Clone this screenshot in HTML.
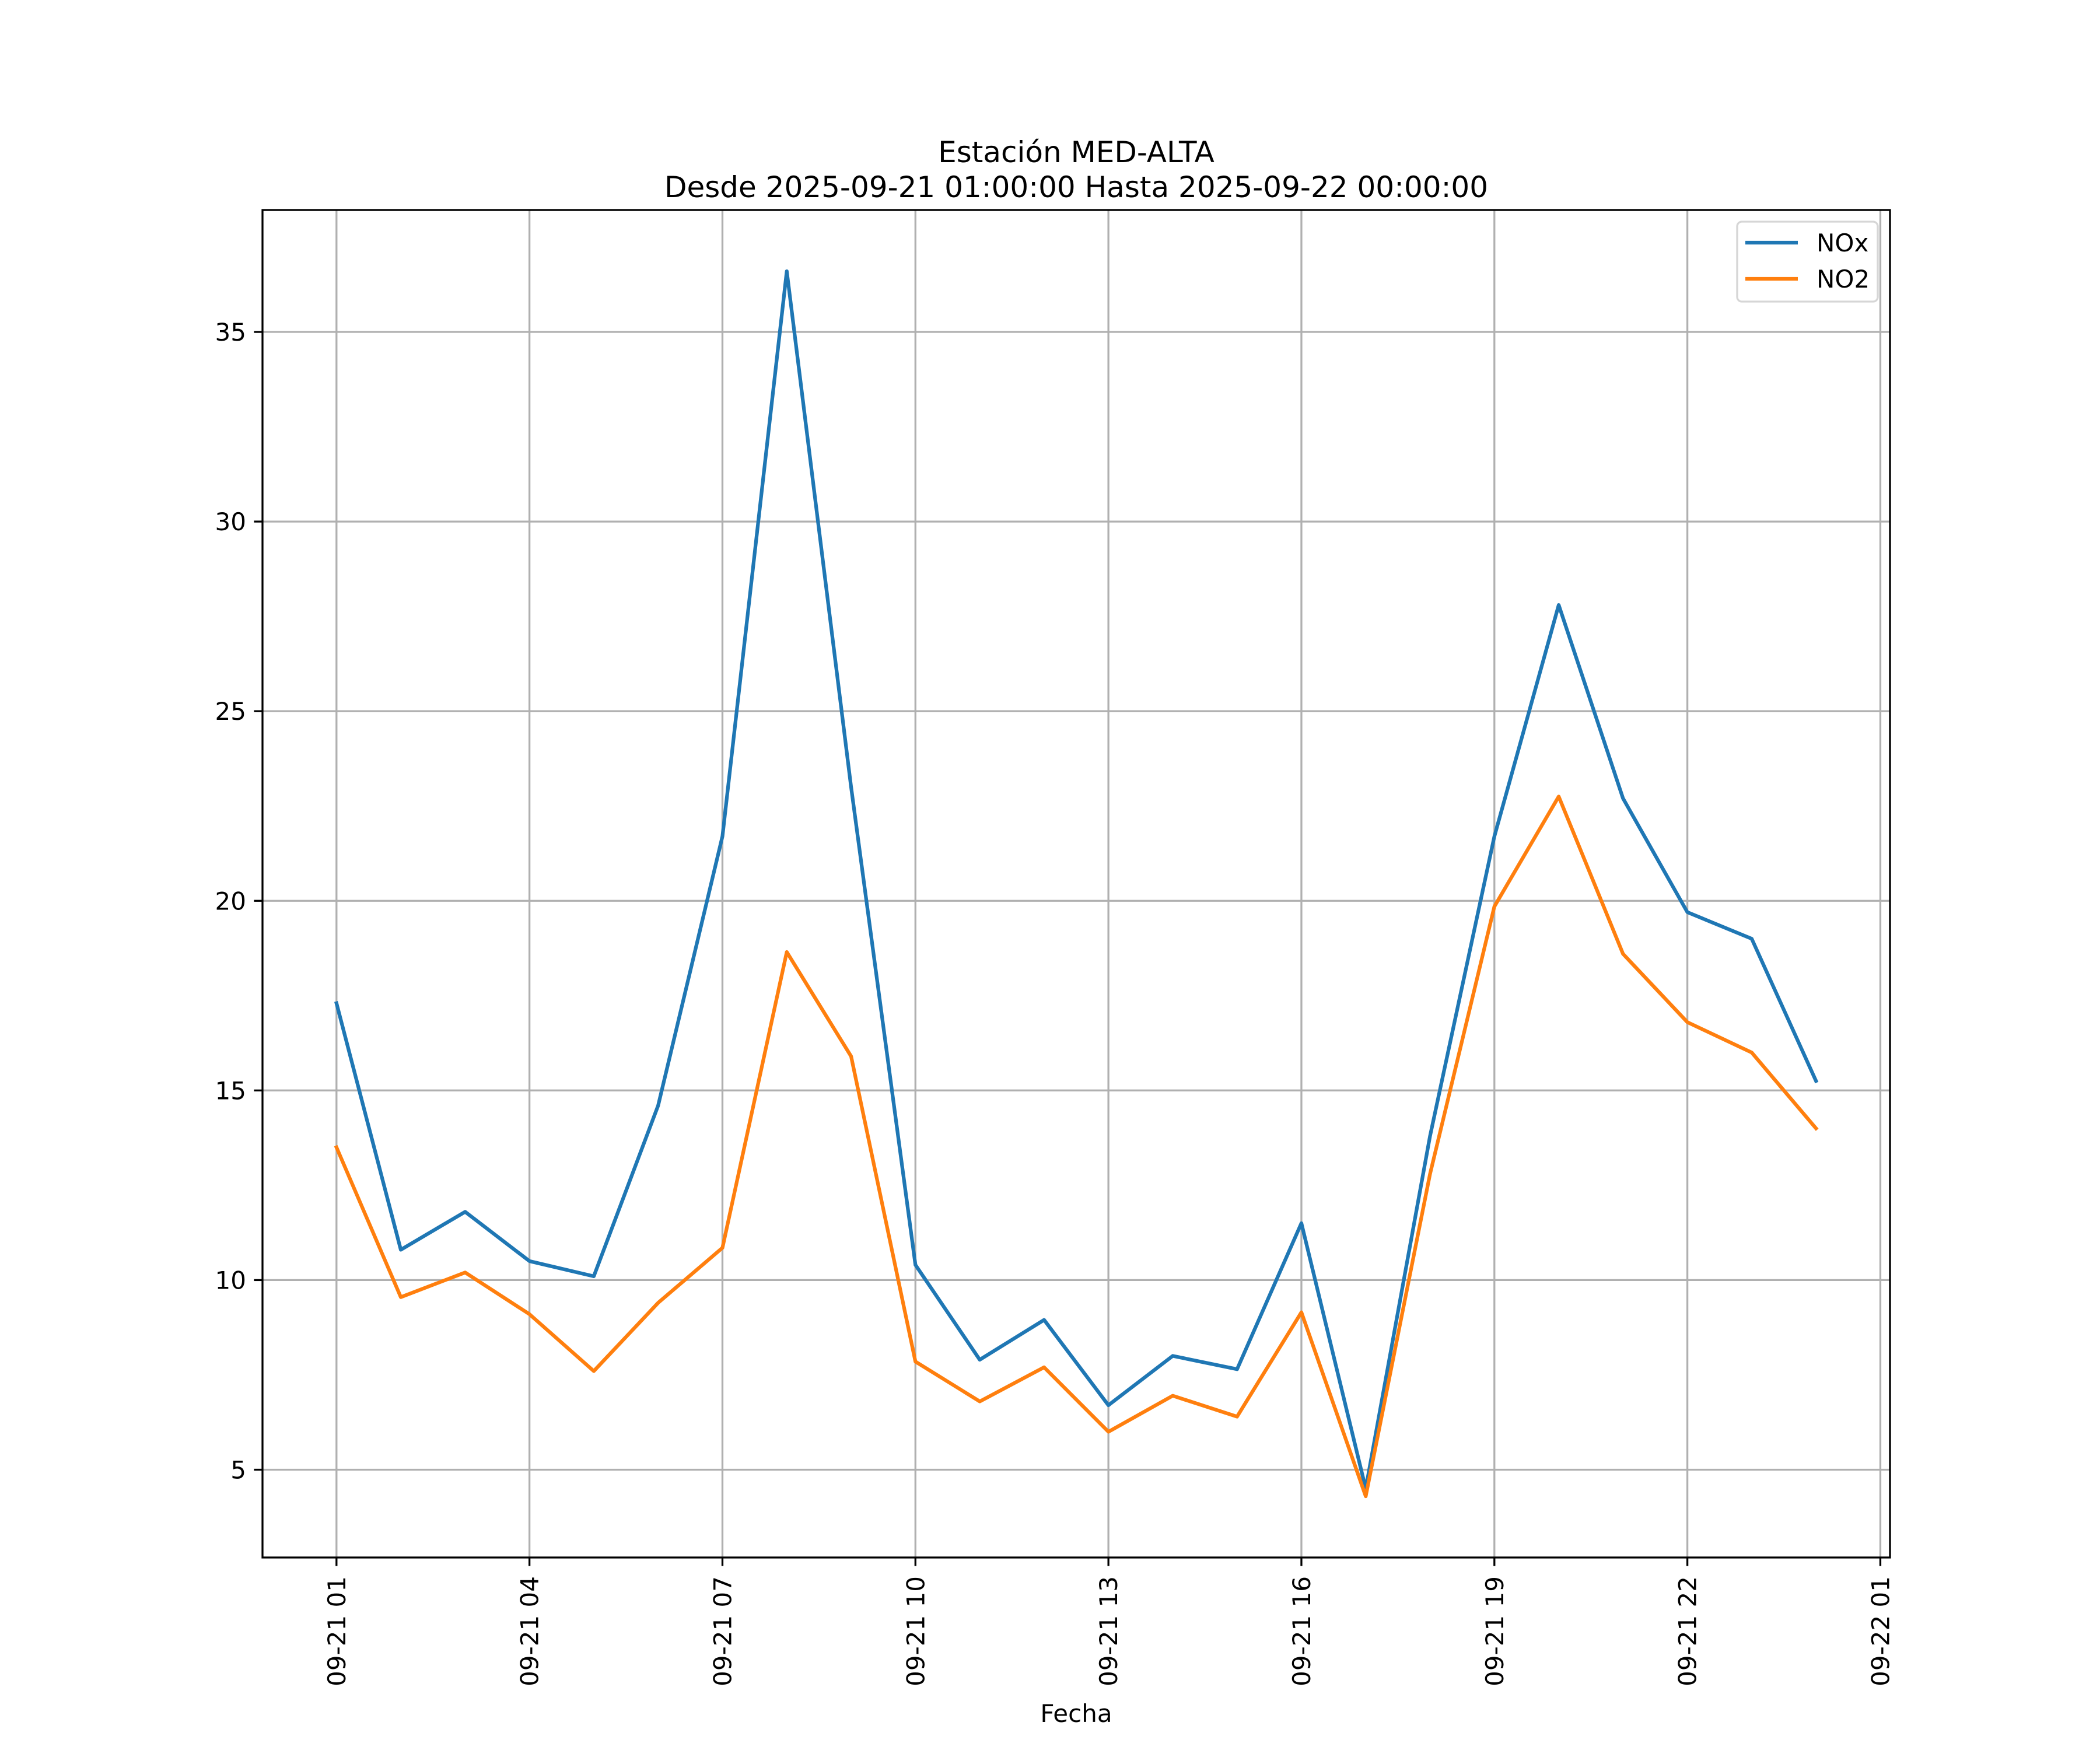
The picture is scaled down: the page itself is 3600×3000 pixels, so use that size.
<!DOCTYPE html>
<html><head><meta charset="utf-8">
<style>
html,body{margin:0;padding:0;background:#fff;}
svg{display:block;font-family:"DejaVu Sans","Liberation Sans",sans-serif;}
</style></head>
<body>
<svg id="chart" width="3600" height="3000" viewBox="0 0 3600 3000" xmlns="http://www.w3.org/2000/svg">
<rect width="3600" height="3000" fill="#fff"/>
<g id="grid"></g>
<g id="series"></g>
<rect x="450" y="360" width="2790" height="2310" fill="none" stroke="#000" stroke-width="3.3"/>
<g id="axes"></g>
<text x="1845" y="278" font-size="50" text-anchor="middle">Estación MED-ALTA</text>
<text x="1845" y="338" font-size="50" text-anchor="middle">Desde 2025-09-21 01:00:00 Hasta 2025-09-22 00:00:00</text>
<text x="1845" y="2952" font-size="42" text-anchor="middle">Fecha</text>
<g>
<rect x="2978" y="380" width="241" height="137" rx="8" fill="#fff" fill-opacity="0.8" stroke="#d6d6d6" stroke-width="3.3"/>
<line x1="2992" y1="416" x2="3082" y2="416" stroke="#1f77b4" stroke-width="6.25"/>
<text x="3114" y="431" font-size="42">NOx</text>
<line x1="2992" y1="478" x2="3082" y2="478" stroke="#ff7f0e" stroke-width="6.25"/>
<text x="3114" y="493" font-size="42">NO2</text>
</g>
</svg>
<script>
const hours = [1,2,3,4,5,6,7,8,9,10,11,12,13,14,15,16,17,18,19,20,21,22,23,24];
const noxValues = [17.3,10.8,11.8,10.5,10.1,14.6,21.7,36.6,23.0,10.4,7.9,8.95,6.7,8.0,7.65,11.5,4.5,13.8,21.7,27.8,22.7,19.7,19.0,15.25];
const no2Values = [13.5,9.55,10.2,9.1,7.6,9.4,10.85,18.65,15.9,7.85,6.8,7.7,6.0,6.95,6.4,9.15,4.3,12.8,19.85,22.75,18.6,16.8,16.0,14.0];
const xTickHours = [1,4,7,10,13,16,19,22,25];
const xTickLabels = ["09-21 01","09-21 04","09-21 07","09-21 10","09-21 13","09-21 16","09-21 19","09-21 22","09-22 01"];
const yTicks = [5,10,15,20,25,30,35];

const L=450,R=3240,T=360,B=2670;
const all=noxValues.concat(no2Values);
const ymin0=Math.min(...all), ymax0=Math.max(...all), yr=ymax0-ymin0;
const yMin=ymin0-0.05*yr, yMax=ymax0+0.05*yr;
const xr=hours[hours.length-1]-hours[0];
const xMin=hours[0]-0.05*xr, xMax=hours[hours.length-1]+0.05*xr;
const X=h=>L+(h-xMin)/(xMax-xMin)*(R-L);
const Y=v=>B-(v-yMin)/(yMax-yMin)*(B-T);
const NS="http://www.w3.org/2000/svg";
function mk(tag,attrs,parent){const e=document.createElementNS(NS,tag);for(const k in attrs)e.setAttribute(k,attrs[k]);parent.appendChild(e);return e;}
const grid=document.getElementById('grid'),axes=document.getElementById('axes'),series=document.getElementById('series');
xTickHours.forEach((h,i)=>{
  const x=X(h);
  const g=mk('line',{x1:x,x2:x,y1:T,y2:B,stroke:'#b0b0b0','stroke-width':3.3},grid);
  
  
  const t=mk('line',{x1:x,x2:x,y1:B,y2:B+14.6,stroke:'#000','stroke-width':3.3},axes);
  
  
  const tx=mk('text',{x:0,y:0,'font-size':42,'text-anchor':'end',transform:`translate(${x+15},${B+32}) rotate(-90)`},axes);
  tx.textContent=xTickLabels[i];
  
  
});
yTicks.forEach(v=>{
  const y=Y(v);
  const g=mk('line',{x1:L,x2:R,y1:y,y2:y,stroke:'#b0b0b0','stroke-width':3.3},grid);
  
  
  const t=mk('line',{x1:L-14.6,x2:L,y1:y,y2:y,stroke:'#000','stroke-width':3.3},axes);
  
  
  const tx=mk('text',{x:L-28,y:y+15,'font-size':42,'text-anchor':'end'},axes);
  tx.textContent=String(v);
  
  
});
function line(vals,color,name){
  const p=mk('polyline',{points:vals.map((v,i)=>X(hours[i])+','+Y(v)).join(' '),fill:'none',stroke:color,'stroke-width':6.25,'stroke-linejoin':'round','stroke-linecap':'square'},series);
  
  
}
line(noxValues,'#1f77b4','nox-line');
line(no2Values,'#ff7f0e','no2-line');
</script>
</body></html>
